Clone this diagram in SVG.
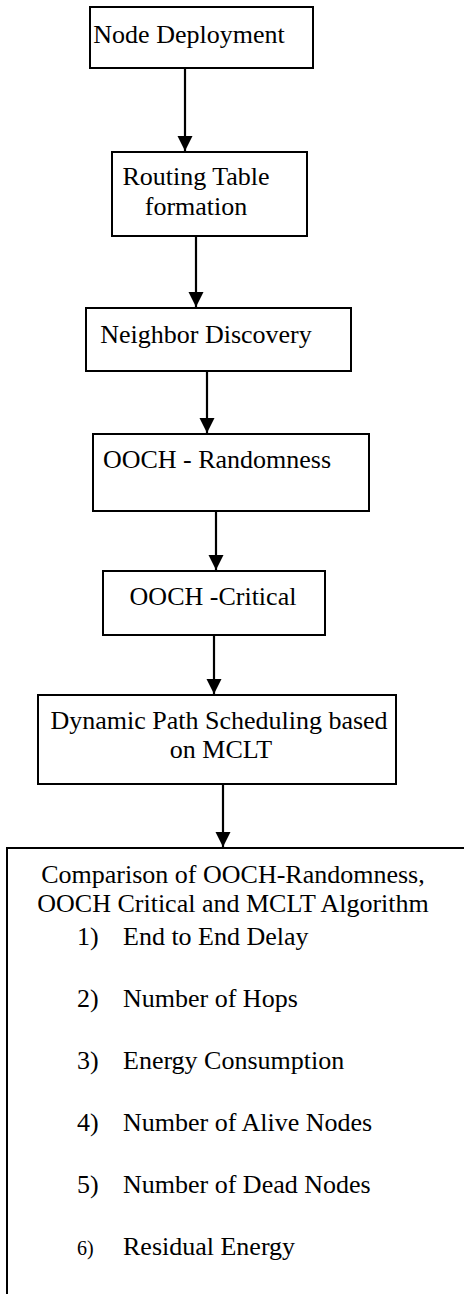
<svg xmlns="http://www.w3.org/2000/svg" width="464" height="1294" viewBox="0 0 464 1294">
<style>
.box{fill:#fff;stroke:#000;stroke-width:2}
.t{font-family:"Liberation Serif","Times New Roman",serif;font-size:26px;fill:#000}
.c{text-anchor:middle}
.conn line{stroke:#000;stroke-width:2.2}
</style>
<defs>
<marker id="ah" markerUnits="userSpaceOnUse" markerWidth="16" markerHeight="16" refX="15" refY="7.5" orient="auto">
<path d="M0,0 L15,7.5 L0,15 z" fill="#000"/>
</marker>
</defs>
<rect width="464" height="1294" fill="#fff"/>
<g id="n1">
<rect class="box" x="90" y="7" width="223" height="61"/>
<text class="t c" x="189" y="43">Node Deployment</text>
</g>
<g id="n2">
<rect class="box" x="112" y="152" width="195" height="84"/>
<text class="t c" x="196" y="185">Routing Table</text>
<text class="t c" x="196" y="215">formation</text>
</g>
<g id="n3">
<rect class="box" x="86" y="308" width="265" height="63"/>
<text class="t c" x="206" y="343">Neighbor Discovery</text>
</g>
<g id="n4">
<rect class="box" x="93" y="434" width="276" height="77"/>
<text class="t c" x="217" y="468">OOCH - Randomness</text>
</g>
<g id="n5">
<rect class="box" x="103" y="571" width="222" height="64"/>
<text class="t c" x="213" y="605">OOCH -Critical</text>
</g>
<g id="n6">
<rect class="box" x="38" y="695" width="358" height="89"/>
<text class="t c" x="219" y="729">Dynamic Path Scheduling based</text>
<text class="t c" x="221" y="758">on MCLT</text>
</g>
<g id="n7">
<rect class="box" x="7" y="848" width="470" height="460"/>
<text class="t c" x="233" y="883">Comparison of OOCH-Randomness,</text>
<text class="t c" x="233" y="912">OOCH Critical and MCLT Algorithm</text>
<text class="t" x="77" y="945">1)</text><text class="t" x="123" y="945">End to End Delay</text>
<text class="t" x="77" y="1007">2)</text><text class="t" x="123" y="1007">Number of Hops</text>
<text class="t" x="77" y="1069">3)</text><text class="t" x="123" y="1069">Energy Consumption</text>
<text class="t" x="77" y="1131">4)</text><text class="t" x="123" y="1131">Number of Alive Nodes</text>
<text class="t" x="77" y="1193">5)</text><text class="t" x="123" y="1193">Number of Dead Nodes</text>
<text class="t" x="77" y="1255" style="font-size:20px">6)</text><text class="t" x="123" y="1255">Residual Energy</text>
</g>
<g id="connectors" class="conn">
<line x1="185" y1="68" x2="185" y2="151" marker-end="url(#ah)"/>
<line x1="196" y1="236" x2="196" y2="307" marker-end="url(#ah)"/>
<line x1="207" y1="371" x2="207" y2="433" marker-end="url(#ah)"/>
<line x1="216" y1="511" x2="216" y2="570" marker-end="url(#ah)"/>
<line x1="214" y1="635" x2="214" y2="694" marker-end="url(#ah)"/>
<line x1="223" y1="784" x2="223" y2="847" marker-end="url(#ah)"/>
</g>
</svg>
